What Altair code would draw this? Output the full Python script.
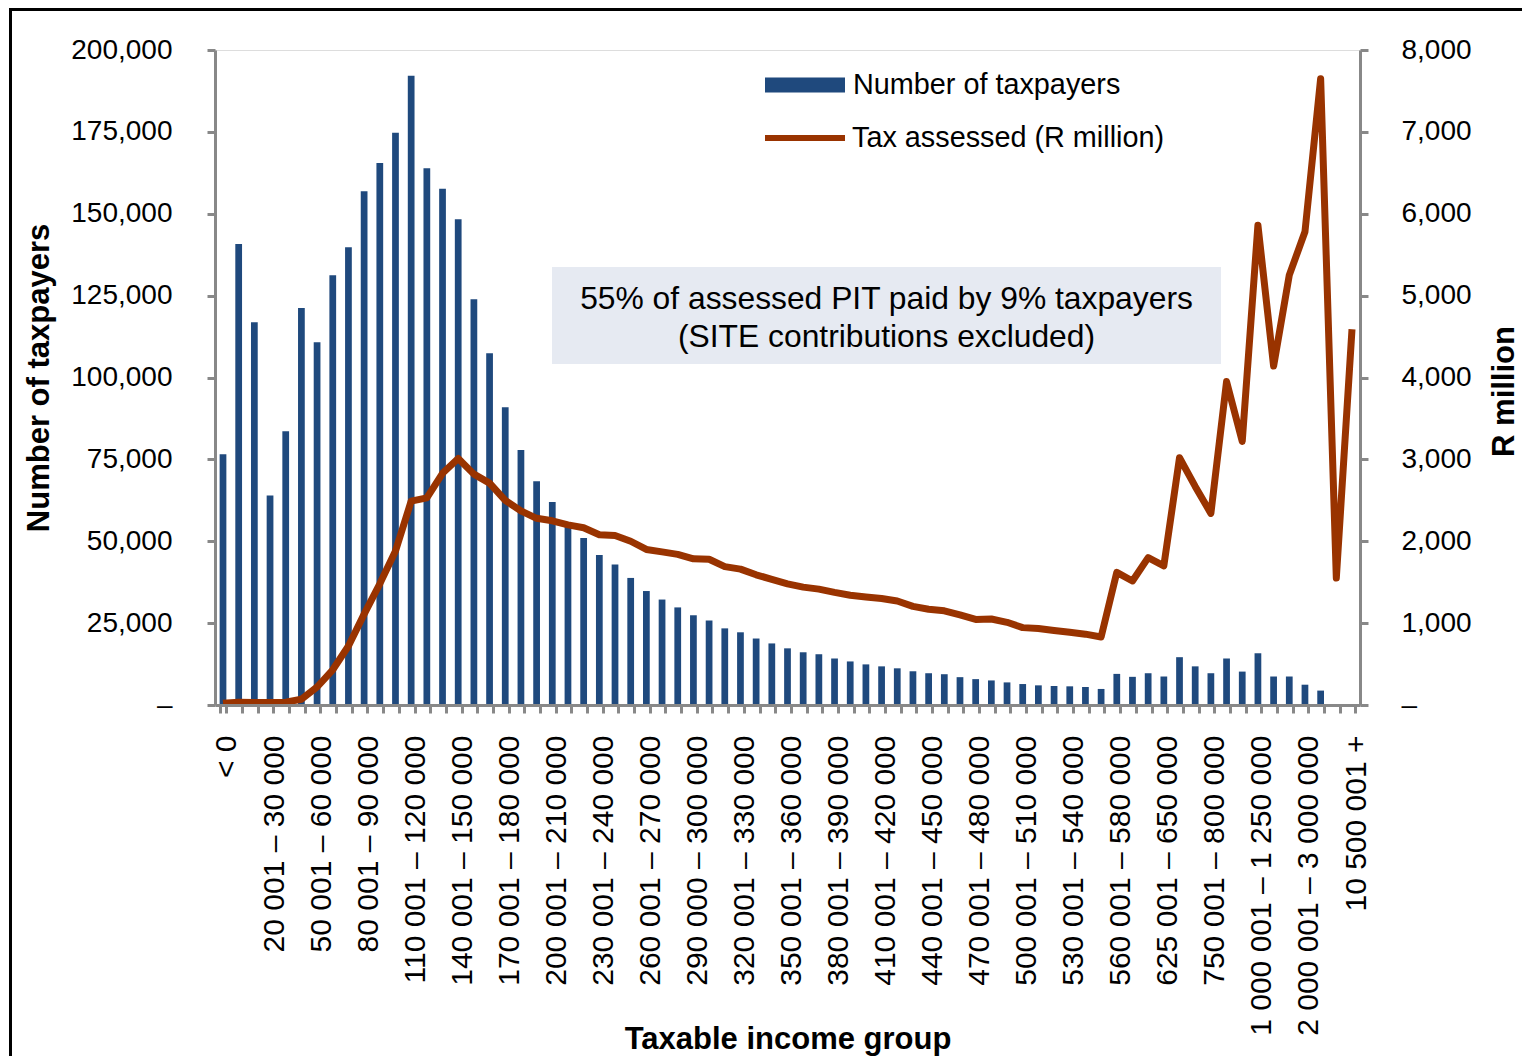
import json
import altair as alt
import pandas as pd

# ---------------- data ----------------
categories = [
    "< 0", "1 – 10 000", "10 001 – 20 000", "20 001 – 30 000", "30 001 – 40 000",
    "40 001 – 50 000", "50 001 – 60 000", "60 001 – 70 000", "70 001 – 80 000",
    "80 001 – 90 000", "90 001 – 100 000", "100 001 – 110 000", "110 001 – 120 000",
    "120 001 – 130 000", "130 001 – 140 000", "140 001 – 150 000", "150 001 – 160 000",
    "160 001 – 170 000", "170 001 – 180 000", "180 001 – 190 000", "190 001 – 200 000",
    "200 001 – 210 000", "210 001 – 220 000", "220 001 – 230 000", "230 001 – 240 000",
    "240 001 – 250 000", "250 001 – 260 000", "260 001 – 270 000", "270 001 – 280 000",
    "280 001 – 290 000", "290 000 – 300 000", "300 001 – 310 000", "310 001 – 320 000",
    "320 001 – 330 000", "330 001 – 340 000", "340 001 – 350 000", "350 001 – 360 000",
    "360 001 – 370 000", "370 001 – 380 000", "380 001 – 390 000", "390 001 – 400 000",
    "400 001 – 410 000", "410 001 – 420 000", "420 001 – 430 000", "430 001 – 440 000",
    "440 001 – 450 000", "450 001 – 460 000", "460 001 – 470 000", "470 001 – 480 000",
    "480 001 – 490 000", "490 001 – 500 000", "500 001 – 510 000", "510 001 – 520 000",
    "520 001 – 530 000", "530 001 – 540 000", "540 001 – 550 000", "550 001 – 560 000",
    "560 001 – 580 000", "580 001 – 600 000", "600 001 – 625 000", "625 001 – 650 000",
    "650 001 – 700 000", "700 001 – 750 000", "750 001 – 800 000", "800 001 – 900 000",
    "900 001 – 1 000 000", "1 000 001 – 1 250 000", "1 250 001 – 1 500 000",
    "1 500 001 – 2 000 000", "2 000 001 – 3 000 000", "3 000 001 – 5 000 000",
    "5 000 001 – 10 500 000", "10 500 001 +",
]

taxpayers = [
    76600, 140800, 116900, 64000, 83600, 121200, 110800, 131200, 139800, 156900,
    165500, 174700, 192100, 163900, 157600, 148300, 123900, 107400, 90900, 77900,
    68300, 62000, 55800, 51000, 45800, 42900, 38800, 34800, 32200, 29800,
    27400, 25800, 23400, 22200, 20300, 18800, 17300, 16100, 15500, 14200,
    13300, 12400, 11800, 11200, 10300, 9700, 9400, 8500, 7900, 7500,
    6900, 6400, 6000, 5800, 5700, 5500, 4900, 9500, 8600, 9700,
    8700, 14600, 11800, 9700, 14200, 10200, 15800, 8700, 8700, 6200,
    4400, 200, 100,
]

tax_assessed = [
    20, 35, 30, 30, 35, 70, 220, 430, 720, 1110,
    1480, 1880, 2490, 2530, 2830, 3010, 2820, 2710, 2500, 2370,
    2280, 2250, 2200, 2165, 2080, 2070, 2000, 1900, 1870, 1840,
    1785, 1780, 1690, 1660, 1590, 1535, 1480, 1440, 1415, 1375,
    1340, 1320, 1300, 1270, 1205, 1170, 1150, 1100, 1045, 1050,
    1010, 945, 935, 910, 888, 865, 830, 1620, 1515, 1800,
    1700, 3020, 2670, 2340, 3950, 3220, 5860, 4140, 5250, 5780,
    7650, 1550, 4590,
]

left_ticks = [0, 25000, 50000, 75000, 100000, 125000, 150000, 175000, 200000]
right_ticks = [0, 1000, 2000, 3000, 4000, 5000, 6000, 7000, 8000]
bar_series_name = "Number of taxpayers"
line_series_name = "Tax assessed (R million)"
note_lines = ["55% of assessed PIT paid by 9% taxpayers", "(SITE contributions excluded)"]
x_title = "Taxable income group"
left_title = "Number of taxpayers"
right_title = "R million"

# ---------------- styling ----------------
FONT = "Liberation Sans"
BAR_COLOR = "#1F497D"
LINE_COLOR = "#993300"
AXIS_GRAY = "#888888"
BOX_COLOR = "#E6EAF2"

df = pd.DataFrame({
    "group": categories,
    "taxpayers": taxpayers,
    "tax": tax_assessed,
    "bar_series": [bar_series_name] * len(categories),
    "line_series": [line_series_name] * len(categories),
})

shown = categories[::3]
label_expr = "indexof(" + json.dumps(shown, ensure_ascii=False) + ", datum.value) >= 0 ? datum.value : ''"

x_enc = alt.X(
    "group:N",
    sort=categories,
    scale=alt.Scale(paddingInner=0.57, paddingOuter=0.295),
    axis=alt.Axis(
        title=x_title,
        titleFont=FONT, titleFontSize=31, titleFontWeight="bold", titleColor="#000000",
        titleBaseline="alphabetic", titleY=343,
        labelAngle=-90, labelFont=FONT, labelFontSize=30, labelColor="#000000",
        labelPadding=22, labelLimit=0, labelExpr=label_expr, labelOffset=4,
        tickSize=8, tickWidth=3, tickColor=AXIS_GRAY, tickBand="extent",
        domainColor=AXIS_GRAY, domainWidth=3, grid=False, zindex=1,
    ),
)

one_row = pd.DataFrame({"k": [0]})

border = alt.Chart(one_row).mark_rect(filled=False, stroke="#000000", strokeWidth=3).encode(
    x=alt.value(-204.5), x2=alt.value(1500), y=alt.value(-40.5), y2=alt.value(1200)
)

box = alt.Chart(one_row).mark_rect(color=BOX_COLOR).encode(
    x=alt.value(337), x2=alt.value(1006), y=alt.value(217), y2=alt.value(314)
)

note = alt.Chart(one_row).mark_text(
    font=FONT, fontSize=31.8, color="#000000", align="center", baseline="middle", lineHeight=38
).encode(x=alt.value(671.5), y=alt.value(249), text=alt.value(note_lines))

bars = alt.Chart(df).mark_bar().encode(
    x=x_enc,
    y=alt.Y(
        "taxpayers:Q",
        scale=alt.Scale(domain=[0, 200000], nice=False),
        axis=alt.Axis(
            orient="left", values=left_ticks,
            labelExpr="datum.value == 0 ? '–' : format(datum.value, ',')",
            title=left_title, titleFont=FONT, titleFontSize=31, titleFontWeight="bold",
            titleColor="#000000", titleAngle=270, titleAlign="center",
            titleBaseline="alphabetic", titleX=-167, titleY=327.5,
            labelFont=FONT, labelFontSize=28, labelColor="#000000", labelPadding=35,
            tickSize=8, tickWidth=3, tickColor=AXIS_GRAY,
            domainColor=AXIS_GRAY, domainWidth=3, grid=False,
        ),
    ),
    fill=alt.Fill(
        "bar_series:N",
        scale=alt.Scale(domain=[bar_series_name], range=[BAR_COLOR]),
        legend=alt.Legend(
            title=None, orient="none", legendX=550, legendY=-5, padding=0,
            symbolType="M-1,-0.1875H1V0.1875H-1Z", symbolSize=6400, symbolStrokeWidth=0,
            labelFont=FONT, labelFontSize=28.8, labelColor="#000000", labelOffset=8,
            labelLimit=0,
        ),
    ),
)

line = alt.Chart(df).mark_line(strokeWidth=7, strokeJoin="round").encode(
    x=x_enc,
    y=alt.Y(
        "tax:Q",
        scale=alt.Scale(domain=[0, 8000], nice=False),
        axis=alt.Axis(
            orient="right", values=right_ticks,
            labelExpr="datum.value == 0 ? '–' : format(datum.value, ',')",
            title=right_title, titleFont=FONT, titleFontSize=31, titleFontWeight="bold",
            titleColor="#000000", titleAngle=270, titleAlign="center",
            titleBaseline="alphabetic", titleX=153, titleY=341,
            labelFont=FONT, labelFontSize=28, labelColor="#000000", labelPadding=33,
            tickSize=8, tickWidth=3, tickColor=AXIS_GRAY,
            domainColor=AXIS_GRAY, domainWidth=3, grid=False,
        ),
    ),
    stroke=alt.Stroke(
        "line_series:N",
        scale=alt.Scale(domain=[line_series_name], range=[LINE_COLOR]),
        legend=alt.Legend(
            title=None, orient="none", legendX=547, legendY=45, padding=0,
            symbolType="stroke", symbolSize=6400, symbolStrokeWidth=6,
            labelFont=FONT, labelFontSize=28.8, labelColor="#000000", labelOffset=4,
            labelLimit=0,
        ),
    ),
)

chart = (
    alt.layer(border, box, note, bars, line)
    .resolve_scale(y="independent", fill="independent", stroke="independent")
    .properties(
        width=1145, height=655,
        autosize=alt.AutoSizeParams(type="none"),
        padding={"left": 207, "top": 42, "right": 162, "bottom": 351},
    )
    .configure_view(stroke=None)
    .configure(font=FONT)
)

chart.save("out.html", embed_options={"renderer": "svg", "actions": False})
